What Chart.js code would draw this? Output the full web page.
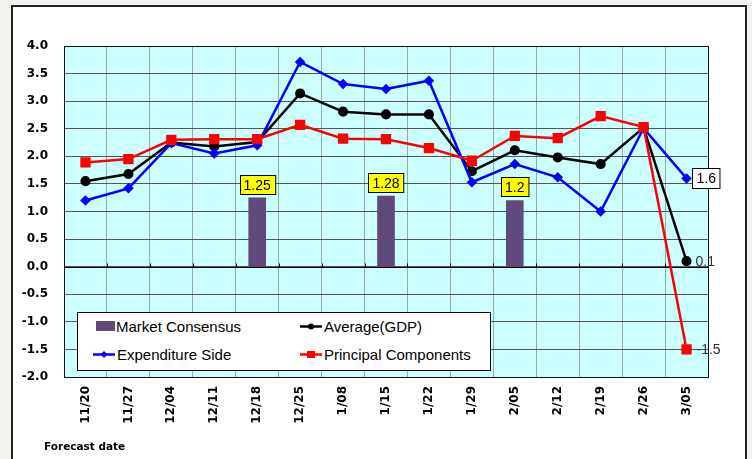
<!DOCTYPE html>
<html>
<head>
<meta charset="utf-8">
<script src="https://cdn.jsdelivr.net/npm/chart.js@4/dist/chart.umd.min.js"></script>
<style>
  body { margin: 0; background: #f3f3ef; width: 752px; height: 459px; overflow: hidden; position: relative; }
  #frame { position: absolute; left: 11px; top: 5px; width: 732px; height: 470px; border: 2px solid #222; background: #fff; }
  #c { position: absolute; left: 0; top: 0; }
  #legend {
    position: absolute; left: 77px; top: 312px; width: 412px; height: 57px;
    border: 1px solid #000; background: #fff;
    font-family: "Liberation Sans", Arial, sans-serif; font-size: 15px; color: #000;
  }
  .item { position: absolute; display: flex; align-items: center; height: 16px; }
  .sw { width: 22px; height: 16px; margin-right: 2px; position: relative; }
  .sw canvas { position: absolute; left: 0; top: 0; }
  #xtitle { position: absolute; left: 44px; top: 440px; font: bold 10.5px "DejaVu Sans", sans-serif; }
</style>
</head>
<body>
<div id="frame"></div>
<canvas id="c" width="752" height="459"></canvas>
<div id="legend"></div>
<div id="xtitle">Forecast date</div>
<script>
const dates = ['11/20', '11/27', '12/04', '12/11', '12/18', '12/25', '1/08', '1/15', '1/22', '1/29', '2/05', '2/12', '2/19', '2/26', '3/05'];
const marketConsensus = [null, null, null, null, 1.25, null, null, 1.28, null, null, 1.2, null, null, null, null];
const averageGdp = [1.55, 1.68, 2.25, 2.18, 2.26, 3.14, 2.81, 2.76, 2.76, 1.73, 2.11, 1.98, 1.86, 2.52, 0.1];
const expenditureSide = [1.2, 1.42, 2.24, 2.05, 2.2, 3.71, 3.31, 3.22, 3.37, 1.53, 1.86, 1.62, 1.0, 2.51, 1.6];
const principalComponents = [1.89, 1.95, 2.3, 2.31, 2.31, 2.57, 2.32, 2.31, 2.15, 1.92, 2.37, 2.33, 2.73, 2.53, -1.5];
const yTicks = [-2.0, -1.5, -1.0, -0.5, 0.0, 0.5, 1.0, 1.5, 2.0, 2.5, 3.0, 3.5, 4.0];

const BAR = '#5f4a7b';

const plotDecor = {
  id: 'plotDecor',
  beforeDraw(chart) {
    const { ctx, chartArea: a } = chart;
    ctx.save();
    ctx.fillStyle = '#ccffff';
    ctx.fillRect(a.left, a.top, a.right - a.left, a.bottom - a.top);
    ctx.restore();
  },
  beforeDatasetsDraw(chart) {
    const { ctx, chartArea: a, scales } = chart;
    const y0 = Math.round(scales.y.getPixelForValue(0)) + 0.5;
    ctx.save();
    ctx.strokeStyle = '#000';
    ctx.lineWidth = 1;
    ctx.beginPath();
    ctx.moveTo(a.left, y0); ctx.lineTo(a.right, y0);
    const n = dates.length;
    for (let i = 1; i < n; i++) {
      const x = Math.round((scales.x.getPixelForTick(i - 1) + scales.x.getPixelForTick(i)) / 2) + 0.5;
      ctx.moveTo(x, y0); ctx.lineTo(x, y0 - 4);
    }
    ctx.stroke();
    ctx.strokeStyle = '#111';
    ctx.strokeRect(Math.round(a.left) + 0.5, Math.round(a.top) + 0.5, Math.round(a.right - a.left), Math.round(a.bottom - a.top));
    ctx.restore();
  },
  afterDatasetsDraw(chart) {
    const { ctx } = chart;
    ctx.save();
    ctx.font = '14px "Liberation Sans", Arial, sans-serif';
    ctx.textBaseline = 'middle';
    // bar value boxes
    chart.getDatasetMeta(0).data.forEach((el, i) => {
      const v = marketConsensus[i];
      if (v == null) return;
      const txt = String(v);
      const w = ctx.measureText(txt).width + 8, h = 19;
      const x = Math.round(el.x - w / 2) + 0.5, y = Math.round(el.y - 4 - h) + 0.5;
      ctx.fillStyle = '#ffff00';
      ctx.fillRect(x, y, w, h);
      ctx.strokeStyle = '#000';
      ctx.lineWidth = 1;
      ctx.strokeRect(x, y, w, h);
      ctx.fillStyle = '#000';
      ctx.textAlign = 'center';
      ctx.fillText(txt, el.x, y + h / 2 + 1);
    });
    // end labels
    const last = dates.length - 1;
    const pBlue = chart.getDatasetMeta(2).data[last];
    const t1 = expenditureSide[last].toFixed(1);
    const bw = ctx.measureText(t1).width + 8, bh = 20;
    const bx = Math.round(pBlue.x + 5) + 0.5, by = Math.round(pBlue.y - bh / 2) + 0.5;
    ctx.fillStyle = '#fff';
    ctx.fillRect(bx, by, bw, bh);
    ctx.strokeStyle = '#000';
    ctx.strokeRect(bx, by, bw, bh);
    ctx.fillStyle = '#000';
    ctx.textAlign = 'left';
    ctx.fillText(t1, bx + 4, by + bh / 2 + 1);
    ctx.fillStyle = '#333';
    const pBlack = chart.getDatasetMeta(1).data[last];
    ctx.fillText(averageGdp[last].toFixed(1), pBlack.x + 9, pBlack.y + 1);
    const pRed = chart.getDatasetMeta(3).data[last];
    ctx.fillText(principalComponents[last].toFixed(1), pRed.x + 10, pRed.y + 1);
    ctx.restore();
  }
};

new Chart(document.getElementById('c').getContext('2d'), {
  type: 'bar',
  data: {
    labels: dates,
    datasets: [
      { type: 'bar', label: 'Market Consensus', data: marketConsensus, backgroundColor: BAR, barThickness: 17, order: 10 },
      { type: 'line', label: 'Average(GDP)', data: averageGdp, borderColor: '#000', backgroundColor: '#000',
        borderWidth: 2.5, pointStyle: 'circle', pointRadius: 3.8, tension: 0, order: 3 },
      { type: 'line', label: 'Expenditure Side', data: expenditureSide, borderColor: '#0000ff', backgroundColor: '#0000ff',
        borderWidth: 2.5, pointStyle: 'rectRot', pointRadius: 3.5, tension: 0, order: 2 },
      { type: 'line', label: 'Principal Components', data: principalComponents, borderColor: '#ff0000', backgroundColor: '#ff0000',
        borderWidth: 2.5, pointStyle: 'rect', pointRadius: 5.5, tension: 0, order: 1 },
    ]
  },
  options: {
    responsive: false,
    animation: false,
    devicePixelRatio: 1,
    layout: { padding: { top: 46, right: 44, left: 0, bottom: 0 } },
    plugins: { legend: { display: false }, tooltip: { enabled: false } },
    scales: {
      x: {
        offset: true,
        grid: { offset: true, color: '#9aa', drawTicks: false },
        border: { display: false },
        ticks: { autoSkip: false, minRotation: 90, maxRotation: 90, padding: 9, color: '#000',
                 font: { family: '"DejaVu Sans", Verdana, sans-serif', size: 12, weight: 'bold' } },
        afterFit: s => { s.height = 82; }
      },
      y: {
        min: yTicks[0], max: yTicks[yTicks.length - 1],
        afterBuildTicks: s => { s.ticks = yTicks.map(v => ({ value: v })); },
        grid: { color: '#555', drawTicks: false },
        border: { display: false },
        ticks: { padding: 16, color: '#000', callback: v => Number(v).toFixed(1),
                 font: { family: '"DejaVu Sans", Verdana, sans-serif', size: 12, weight: 'bold' } },
        afterFit: s => { s.width = 64; }
      }
    }
  },
  plugins: [plotDecor]
});

// legend
const legendItems = [
  { label: 'Market Consensus', kind: 'bar', color: BAR, x: 17, y: 5 },
  { label: 'Average(GDP)', kind: 'circle', color: '#000', x: 222, y: 5 },
  { label: 'Expenditure Side', kind: 'rectRot', color: '#0000ff', x: 15, y: 33 },
  { label: 'Principal Components', kind: 'rect', color: '#ff0000', x: 222, y: 33 },
];
const legend = document.getElementById('legend');
legendItems.forEach(it => {
  const d = document.createElement('div');
  d.className = 'item';
  d.style.left = it.x + 'px';
  d.style.top = it.y + 'px';
  const sw = document.createElement('div');
  sw.className = 'sw';
  const c = document.createElement('canvas');
  c.width = 22; c.height = 16;
  sw.appendChild(c);
  const g = c.getContext('2d');
  g.fillStyle = it.color; g.strokeStyle = it.color;
  if (it.kind === 'bar') {
    sw.style.width = '19px';
    g.fillRect(1, 3, 19, 10);
  } else {
    g.lineWidth = 2.5;
    g.beginPath(); g.moveTo(0, 8.5); g.lineTo(22, 8.5); g.stroke();
    g.beginPath();
    if (it.kind === 'circle') g.arc(11, 8.5, 3, 0, Math.PI * 2);
    else if (it.kind === 'rect') g.rect(7, 5, 8, 7);
    else { g.moveTo(11, 5); g.lineTo(14.5, 8.5); g.lineTo(11, 12); g.lineTo(7.5, 8.5); g.closePath(); }
    g.fill();
  }
  const t = document.createElement('span');
  t.textContent = it.label;
  d.appendChild(sw);
  d.appendChild(t);
  legend.appendChild(d);
});
</script>
</body>
</html>
